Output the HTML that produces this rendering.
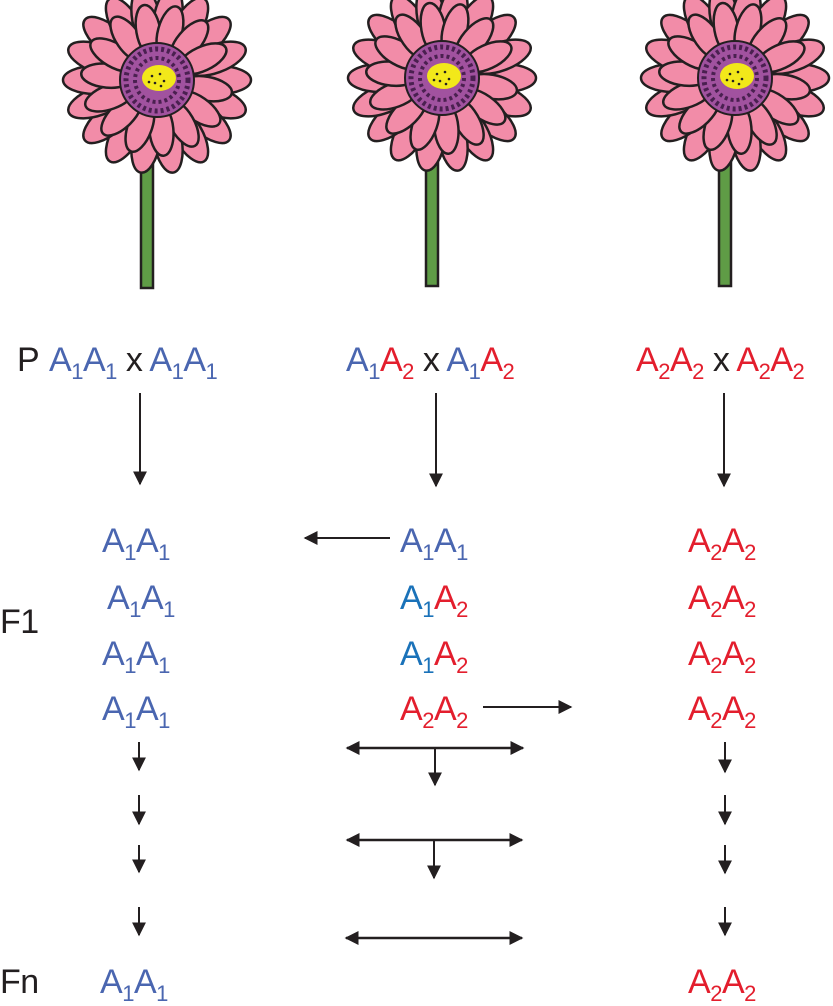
<!DOCTYPE html>
<html><head><meta charset="utf-8"><style>
html,body{margin:0;padding:0;background:#fff;}
body{width:833px;height:1002px;position:relative;overflow:hidden;font-family:"Liberation Sans",sans-serif;}
.t{position:absolute;font-size:34px;line-height:1;white-space:nowrap;color:#231f20;letter-spacing:-0.5px;}
.b{color:#4a66b0}.r{color:#e31e2d}.c{color:#1a72b9}
sub{font-size:22px;vertical-align:-8px;line-height:0;}
svg{position:absolute;left:0;top:0;}
</style></head><body>
<svg width="833" height="1002" viewBox="0 0 833 1002">
<defs>
<g id="fl">
  <rect x="-16" y="70" width="12" height="138" fill="#5f9c46" stroke="#231f20" stroke-width="2.5"/>
  <g stroke="#231f20" stroke-width="2.5" fill="#f28ca8">
    <g>
      <ellipse cx="62" cy="0" rx="32" ry="14" transform="rotate(0)"/>
      <ellipse cx="62" cy="0" rx="32" ry="14" transform="rotate(20)"/>
      <ellipse cx="62" cy="0" rx="32" ry="14" transform="rotate(40)"/>
      <ellipse cx="62" cy="0" rx="32" ry="14" transform="rotate(60)"/>
      <ellipse cx="62" cy="0" rx="32" ry="14" transform="rotate(80)"/>
      <ellipse cx="62" cy="0" rx="32" ry="14" transform="rotate(100)"/>
      <ellipse cx="62" cy="0" rx="32" ry="14" transform="rotate(120)"/>
      <ellipse cx="62" cy="0" rx="32" ry="14" transform="rotate(140)"/>
      <ellipse cx="62" cy="0" rx="32" ry="14" transform="rotate(160)"/>
      <ellipse cx="62" cy="0" rx="32" ry="14" transform="rotate(180)"/>
      <ellipse cx="62" cy="0" rx="32" ry="14" transform="rotate(200)"/>
      <ellipse cx="62" cy="0" rx="32" ry="14" transform="rotate(220)"/>
      <ellipse cx="62" cy="0" rx="32" ry="14" transform="rotate(240)"/>
      <ellipse cx="62" cy="0" rx="32" ry="14" transform="rotate(260)"/>
      <ellipse cx="62" cy="0" rx="32" ry="14" transform="rotate(280)"/>
      <ellipse cx="62" cy="0" rx="32" ry="14" transform="rotate(300)"/>
      <ellipse cx="62" cy="0" rx="32" ry="14" transform="rotate(320)"/>
      <ellipse cx="62" cy="0" rx="32" ry="14" transform="rotate(340)"/>
    </g>
    <g>
      <ellipse cx="50" cy="0" rx="26" ry="12" transform="rotate(10)"/>
      <ellipse cx="50" cy="0" rx="26" ry="12" transform="rotate(35)"/>
      <ellipse cx="50" cy="0" rx="26" ry="12" transform="rotate(60)"/>
      <ellipse cx="50" cy="0" rx="26" ry="12" transform="rotate(85)"/>
      <ellipse cx="50" cy="0" rx="26" ry="12" transform="rotate(110)"/>
      <ellipse cx="50" cy="0" rx="26" ry="12" transform="rotate(135)"/>
      <ellipse cx="50" cy="0" rx="26" ry="12" transform="rotate(160)"/>
      <ellipse cx="50" cy="0" rx="26" ry="12" transform="rotate(185)"/>
      <ellipse cx="50" cy="0" rx="26" ry="12" transform="rotate(210)"/>
      <ellipse cx="50" cy="0" rx="26" ry="12" transform="rotate(235)"/>
      <ellipse cx="50" cy="0" rx="26" ry="12" transform="rotate(260)"/>
      <ellipse cx="50" cy="0" rx="26" ry="12" transform="rotate(285)"/>
      <ellipse cx="50" cy="0" rx="26" ry="12" transform="rotate(310)"/>
      <ellipse cx="50" cy="0" rx="26" ry="12" transform="rotate(335)"/>
    </g>
  </g>
  <circle r="37" fill="#a1529f" stroke="#231f20" stroke-width="2"/>
  <circle r="31" fill="none" stroke="#4a2050" stroke-width="5" stroke-dasharray="3 3"/>
  <circle r="22" fill="none" stroke="#4a2050" stroke-width="4" stroke-dasharray="3 3"/>
  <ellipse cx="2" cy="-2" rx="17" ry="13" fill="#f2e81a"/>
  <g fill="#231f20"><circle cx="-5" cy="-4" r="1.3"/><circle cx="3" cy="-6" r="1.3"/><circle cx="7" cy="1" r="1.3"/><circle cx="-2" cy="3" r="1.3"/><circle cx="4" cy="6" r="1.3"/><circle cx="-8" cy="2" r="1.3"/></g>
</g>
<marker id="ah" viewBox="0 0 10 10" refX="9" refY="5" markerWidth="14" markerHeight="14" markerUnits="userSpaceOnUse" orient="auto-start-reverse"><path d="M0,0 L10,5 L0,10 z" fill="#231f20"/></marker>
</defs>
<use href="#fl" transform="translate(157,80)"/>
<use href="#fl" transform="translate(442,78)"/>
<use href="#fl" transform="translate(735,78)"/>
<g stroke="#231f20" stroke-width="2" fill="none" marker-end="url(#ah)">
<line x1="140" y1="393" x2="140" y2="484"/>
<line x1="436" y1="393" x2="436" y2="486"/>
<line x1="724" y1="393" x2="724" y2="486"/>
<line x1="390" y1="538" x2="305" y2="538"/>
<line x1="483" y1="707" x2="571" y2="707"/>
<line x1="139" y1="742" x2="139" y2="770"/>
<line x1="139" y1="795" x2="139" y2="824"/>
<line x1="139" y1="845" x2="139" y2="872"/>
<line x1="139" y1="907" x2="139" y2="935"/>
<line x1="725" y1="742" x2="725" y2="772"/>
<line x1="725" y1="795" x2="725" y2="824"/>
<line x1="725" y1="845" x2="725" y2="873"/>
<line x1="725" y1="907" x2="725" y2="935"/>
<line x1="435" y1="748" x2="435" y2="785"/>
<line x1="434" y1="840" x2="434" y2="878"/>
</g>
<g stroke="#231f20" stroke-width="2.5" fill="none" marker-end="url(#ah)" marker-start="url(#ah)">
<line x1="347" y1="748" x2="523" y2="748"/>
<line x1="347" y1="840" x2="522" y2="840"/>
<line x1="346" y1="938" x2="522" y2="938"/>
</g>
</svg>
<div class="t" style="left:17px;top:343px">P</div>
<div class="t b" style="left:49px;top:343px">A<sub>1</sub>A<sub>1</sub> <span style="color:#231f20">x</span> A<sub>1</sub>A<sub>1</sub></div>
<div class="t" style="left:346px;top:343px"><span class="b">A<sub>1</sub></span><span class="r">A<sub>2</sub></span> x <span class="b">A<sub>1</sub></span><span class="r">A<sub>2</sub></span></div>
<div class="t r" style="left:636px;top:343px">A<sub>2</sub>A<sub>2</sub> <span style="color:#231f20">x</span> A<sub>2</sub>A<sub>2</sub></div>

<div class="t b" style="left:102px;top:524px">A<sub>1</sub>A<sub>1</sub></div>
<div class="t b" style="left:107px;top:581px">A<sub>1</sub>A<sub>1</sub></div>
<div class="t b" style="left:102px;top:637px">A<sub>1</sub>A<sub>1</sub></div>
<div class="t b" style="left:102px;top:692px">A<sub>1</sub>A<sub>1</sub></div>

<div class="t b" style="left:400px;top:524px">A<sub>1</sub>A<sub>1</sub></div>
<div class="t" style="left:400px;top:581px"><span class="c">A<sub>1</sub></span><span class="r">A<sub>2</sub></span></div>
<div class="t" style="left:400px;top:637px"><span class="c">A<sub>1</sub></span><span class="r">A<sub>2</sub></span></div>
<div class="t r" style="left:400px;top:692px">A<sub>2</sub>A<sub>2</sub></div>

<div class="t r" style="left:688px;top:524px">A<sub>2</sub>A<sub>2</sub></div>
<div class="t r" style="left:688px;top:581px">A<sub>2</sub>A<sub>2</sub></div>
<div class="t r" style="left:688px;top:637px">A<sub>2</sub>A<sub>2</sub></div>
<div class="t r" style="left:688px;top:692px">A<sub>2</sub>A<sub>2</sub></div>

<div class="t" style="left:0px;top:605px">F1</div>
<div class="t" style="left:0px;top:965px">Fn</div>
<div class="t b" style="left:100px;top:965px">A<sub>1</sub>A<sub>1</sub></div>
<div class="t r" style="left:688px;top:965px">A<sub>2</sub>A<sub>2</sub></div>
</body></html>
